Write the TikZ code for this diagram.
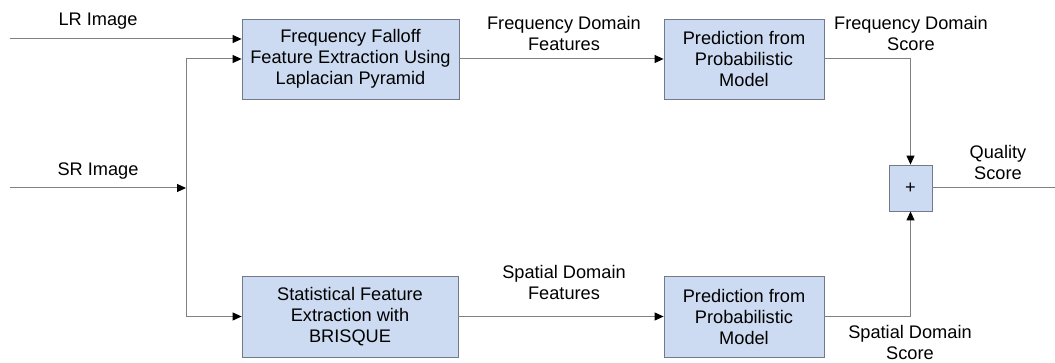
\documentclass[tikz,border=0pt]{standalone}
\usepackage{fontspec}
\setmainfont{Liberation Sans}
\usepackage{xcolor}
\usetikzlibrary{arrows.meta}
\definecolor{boxblue}{RGB}{204,219,241}
\definecolor{boxedge}{RGB}{112,122,138}
\definecolor{wiregray}{RGB}{128,128,128}

\begin{document}
\begin{tikzpicture}[x=1pt, y=-1pt,
  block/.style={draw=boxedge, fill=boxblue, thick, align=center, inner sep=0pt,
    font=\fontsize{18.2}{21}\selectfont},
  lbl/.style={align=center, inner sep=0pt, font=\fontsize{18.2}{21}\selectfont},
  wire/.style={draw=wiregray, line width=1pt},
  arr/.style={wire, -{Triangle[length=9pt, width=8pt, color=black]}}]
\useasboundingbox (0,0) rectangle (1055,363);
% blocks
\node[block, minimum width=217pt, minimum height=80pt] (freqext) at (350.5,59) {Frequency Falloff\\Feature Extraction Using\\Laplacian Pyramid};
\node[block, minimum width=160pt, minimum height=80pt] (freqpred) at (744,59) {Prediction from\\Probabilistic\\Model};
\node[block, minimum width=216pt, minimum height=81pt] (spatext) at (350,316.5) {Statistical Feature\\Extraction with\\BRISQUE};
\node[block, minimum width=160pt, minimum height=81pt] (spatpred) at (744,316.5) {Prediction from\\Probabilistic\\Model};
\node[block, minimum width=43pt, minimum height=46pt] (sum) at (910.5,188) {+};
% inputs
\coordinate (lrin) at (10,39);
\coordinate (srin) at (10,188);
\coordinate (split) at (186,188);
\coordinate (qout) at (1064,188);
\draw[arr] (lrin) -- (lrin -| freqext.west);
\draw[arr] (srin) -- (split);
\draw[arr] (split) |- (freqext.west);
\draw[arr] (split) |- (spatext.west);
% features and scores
\draw[arr] (freqext.east) -- (freqpred.west);
\draw[arr] (spatext.east) -- (spatpred.west);
\draw[arr] (freqpred.east) -| (sum.north);
\draw[arr] (spatpred.east) -| (sum.south);
\draw[arr] (sum.east) -- (qout);
% labels
\node[lbl] (lrlbl) at (98,21) {LR Image};
\node[lbl] (srlbl) at (98,171) {SR Image};
\node[lbl] (freqfeat) at (564,33.5) {Frequency Domain\\Features};
\node[lbl] (freqscore) at (911,33.5) {Frequency Domain\\Score};
\node[lbl] (spatfeat) at (564,282.5) {Spatial Domain\\Features};
\node[lbl] (spatscore) at (910,342) {Spatial Domain\\Score};
\node[lbl] (qscore) at (998,162) {Quality\\Score};
\end{tikzpicture}
\end{document}
